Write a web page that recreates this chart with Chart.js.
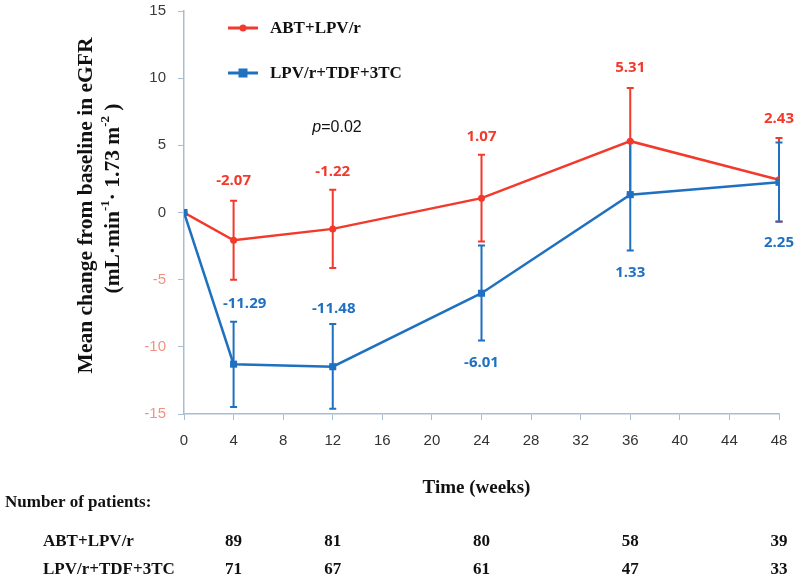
<!DOCTYPE html>
<html>
<head>
<meta charset="utf-8">
<script src="https://cdn.jsdelivr.net/npm/chart.js@4.4.1/dist/chart.umd.min.js"></script>
<style>
  html, body { margin: 0; padding: 0; background: #fff; }
  #wrap { width: 800px; height: 582px; position: relative; }
</style>
</head>
<body>
<div id="wrap"><canvas id="egfrChart" width="800" height="582"></canvas></div>
<script>
// data
const weeks = [0, 4, 12, 24, 36, 48];
const abtMean = [0, -2.07, -1.22, 1.07, 5.31, 2.43];
const abtUpper = [null, 0.87, 1.69, 4.30, 9.26, 5.54];
const abtLower = [null, -5.00, -4.14, -2.16, 1.36, -0.68];
const tdfMean = [0, -11.29, -11.48, -6.01, 1.33, 2.25];
const tdfUpper = [null, -8.14, -8.30, -2.46, 5.30, 5.21];
const tdfLower = [null, -14.47, -14.60, -9.53, -2.83, -0.67];

const seriesNames = ["ABT+LPV/r", "LPV/r+TDF+3TC"];
const patientWeeks = [4, 12, 24, 36, 48];
const abtPatients = [89, 81, 80, 58, 39];
const tdfPatients = [71, 67, 61, 47, 33];

const xMin = 0, xMax = 48, xStep = 4;
const yMin = -15, yMax = 15, yStep = 5;

const RED = "#f2392b";
const BLUE = "#1f70c1";
const AXIS = "#a9bdd1";

// where each value label sits relative to its error bar end (px)
const abtLabelAnchor = [null, "upper", "upper", "upper", "upper", "upper"];
const abtLabelDy = [null, -20, -18, -18, -20, -19];
const tdfLabelAnchor = [null, "upper", "upper", "lower", "lower", "lower"];
const tdfLabelDy = [null, -18, -15, 22, 22, 21];
const tdfLabelDx = [null, 11, 1, 0, 0, 0];

function toPoints(ys) {
    return weeks.map((w, i) => ({ x: w, y: ys[i] }));
}

const errorBars = {
    id: "errorBars",
    beforeDatasetsDraw(chart) {
        const { ctx, scales: { x, y } } = chart;
        const sets = [
            { upper: abtUpper, lower: abtLower, color: RED },
            { upper: tdfUpper, lower: tdfLower, color: BLUE },
        ];
        ctx.save();
        ctx.lineWidth = 2;
        sets.forEach(s => {
            ctx.strokeStyle = s.color;
            weeks.forEach((w, i) => {
                if (s.upper[i] == null) return;
                const px = x.getPixelForValue(w);
                const top = y.getPixelForValue(s.upper[i]);
                const bot = y.getPixelForValue(s.lower[i]);
                ctx.beginPath();
                ctx.moveTo(px, top); ctx.lineTo(px, bot);
                ctx.moveTo(px - 3.5, top); ctx.lineTo(px + 3.5, top);
                ctx.moveTo(px - 3.5, bot); ctx.lineTo(px + 3.5, bot);
                ctx.stroke();
            });
        });
        ctx.restore();
    }
};

const annotations = {
    id: "annotations",
    afterDraw(chart) {
        const { ctx, chartArea, scales: { x, y } } = chart;
        ctx.save();

        // value labels
        ctx.font = "bold 15px 'Open Sans'";
        ctx.textAlign = "center";
        ctx.textBaseline = "middle";
        weeks.forEach((w, i) => {
            if (i === 0) return;
            const px = x.getPixelForValue(w);
            let ref = abtLabelAnchor[i] === "upper" ? abtUpper[i] : abtLower[i];
            ctx.fillStyle = RED;
            ctx.fillText(abtMean[i].toFixed(2), px, y.getPixelForValue(ref) + abtLabelDy[i]);
            ref = tdfLabelAnchor[i] === "upper" ? tdfUpper[i] : tdfLower[i];
            ctx.fillStyle = BLUE;
            ctx.fillText(tdfMean[i].toFixed(2), px + tdfLabelDx[i], y.getPixelForValue(ref) + tdfLabelDy[i]);
        });

        // p value
        ctx.fillStyle = "#111";
        ctx.font = "italic 16px 'Liberation Sans'";
        ctx.textAlign = "left";
        const pw = ctx.measureText("p").width;
        ctx.font = "16px 'Liberation Sans'";
        const rest = "=0.02";
        const total = pw + ctx.measureText(rest).width;
        const pX = 337 - total / 2, pY = 128;
        ctx.font = "italic 16px 'Liberation Sans'";
        ctx.fillText("p", pX, pY);
        ctx.font = "16px 'Liberation Sans'";
        ctx.fillText(rest, pX + pw, pY);

        // legend
        const legend = [
            { name: seriesNames[0], color: RED, y: 28, shape: "dot" },
            { name: seriesNames[1], color: BLUE, y: 73, shape: "square" },
        ];
        legend.forEach(l => {
            ctx.strokeStyle = l.color;
            ctx.fillStyle = l.color;
            ctx.lineWidth = 3;
            ctx.beginPath();
            ctx.moveTo(228, l.y); ctx.lineTo(258, l.y);
            ctx.stroke();
            if (l.shape === "dot") {
                ctx.beginPath(); ctx.arc(243, l.y, 3.5, 0, Math.PI * 2); ctx.fill();
            } else {
                ctx.fillRect(238.5, l.y - 4.5, 9, 9);
            }
            ctx.fillStyle = "#111";
            ctx.font = "bold 17px 'Liberation Serif'";
            ctx.textAlign = "left";
            ctx.fillText(l.name, 270, l.y + 1);
        });

        // y axis title (two lines, rotated)
        const cy = (chartArea.top + chartArea.bottom) / 2 - 7;
        ctx.save();
        ctx.translate(86, cy);
        ctx.rotate(-Math.PI / 2);
        ctx.fillStyle = "#111";
        ctx.textAlign = "center";
        ctx.font = "bold 21.5px 'Liberation Serif'";
        ctx.fillText("Mean change from baseline in eGFR", 0, 0);
        ctx.restore();

        ctx.save();
        ctx.translate(113, cy - 7);
        ctx.rotate(-Math.PI / 2);
        ctx.fillStyle = "#111";
        ctx.textAlign = "left";
        const parts = [
            ["(mL\u00b7min", false], ["-1", true], ["\u00b7 1.73 m", false], ["-2", true], [" )", false]
        ];
        const big = "bold 21.5px 'Liberation Serif'", small = "bold 13px 'Liberation Serif'";
        let width = 0;
        parts.forEach(([t, sup]) => {
            ctx.font = sup ? small : big;
            width += ctx.measureText(t).width;
        });
        let cx = -width / 2;
        parts.forEach(([t, sup]) => {
            ctx.font = sup ? small : big;
            ctx.fillText(t, cx, sup ? -7 : 0);
            cx += ctx.measureText(t).width;
        });
        ctx.restore();

        // x axis title
        ctx.fillStyle = "#111";
        ctx.textAlign = "center";
        ctx.font = "bold 19px 'Liberation Serif'";
        ctx.fillText("Time (weeks)", (chartArea.left + chartArea.right) / 2 - 5, 488);

        // number at risk table
        ctx.font = "bold 17px 'Liberation Serif'";
        ctx.textAlign = "left";
        ctx.fillText("Number of patients:", 5, 503);
        ctx.fillText(seriesNames[0], 43, 542);
        ctx.fillText(seriesNames[1], 43, 570);
        ctx.textAlign = "center";
        patientWeeks.forEach((w, i) => {
            const px = x.getPixelForValue(w);
            ctx.fillText(String(abtPatients[i]), px, 542);
            ctx.fillText(String(tdfPatients[i]), px, 570);
        });

        ctx.restore();
    }
};

const ctx = document.getElementById("egfrChart").getContext("2d");
new Chart(ctx, {
    type: "line",
    data: {
        datasets: [
            {
                label: seriesNames[0],
                data: toPoints(abtMean),
                borderColor: RED,
                backgroundColor: RED,
                borderWidth: 2.5,
                pointStyle: "circle",
                pointRadius: 3.5,
                pointBorderWidth: 0,
                order: 1,
            },
            {
                label: seriesNames[1],
                data: toPoints(tdfMean),
                borderColor: BLUE,
                backgroundColor: BLUE,
                borderWidth: 2.5,
                pointStyle: "rect",
                pointRadius: 5,
                pointBorderWidth: 0,
                order: 0,
            },
        ],
    },
    options: {
        responsive: false,
        animation: false,
        layout: { padding: { top: 11, right: 21, left: 0, bottom: 0 } },
        plugins: { legend: { display: false }, tooltip: { enabled: false } },
        scales: {
            x: {
                type: "linear",
                min: xMin,
                max: xMax,
                afterFit: s => { s.height = 168; },
                ticks: { stepSize: xStep, color: "#333", padding: 12, font: { size: 15, family: "'Liberation Sans'" } },
                grid: { drawOnChartArea: false, tickLength: 6, color: AXIS },
                border: { color: AXIS, width: 1.5 },
            },
            y: {
                min: yMin,
                max: yMax,
                afterFit: s => { s.width = 184; s.paddingTop = 0; s.paddingBottom = 0; },
                ticks: {
                    stepSize: yStep,
                    padding: 12,
                    font: { size: 15, family: "'Liberation Sans'" },
                    color: c => (c.tick && c.tick.value < 0 ? "#f29282" : "#3a3a3a"),
                },
                grid: { drawOnChartArea: false, tickLength: 6, color: AXIS },
                border: { color: AXIS, width: 1.5 },
            },
        },
    },
    plugins: [errorBars, annotations],
});
</script>
</body>
</html>
